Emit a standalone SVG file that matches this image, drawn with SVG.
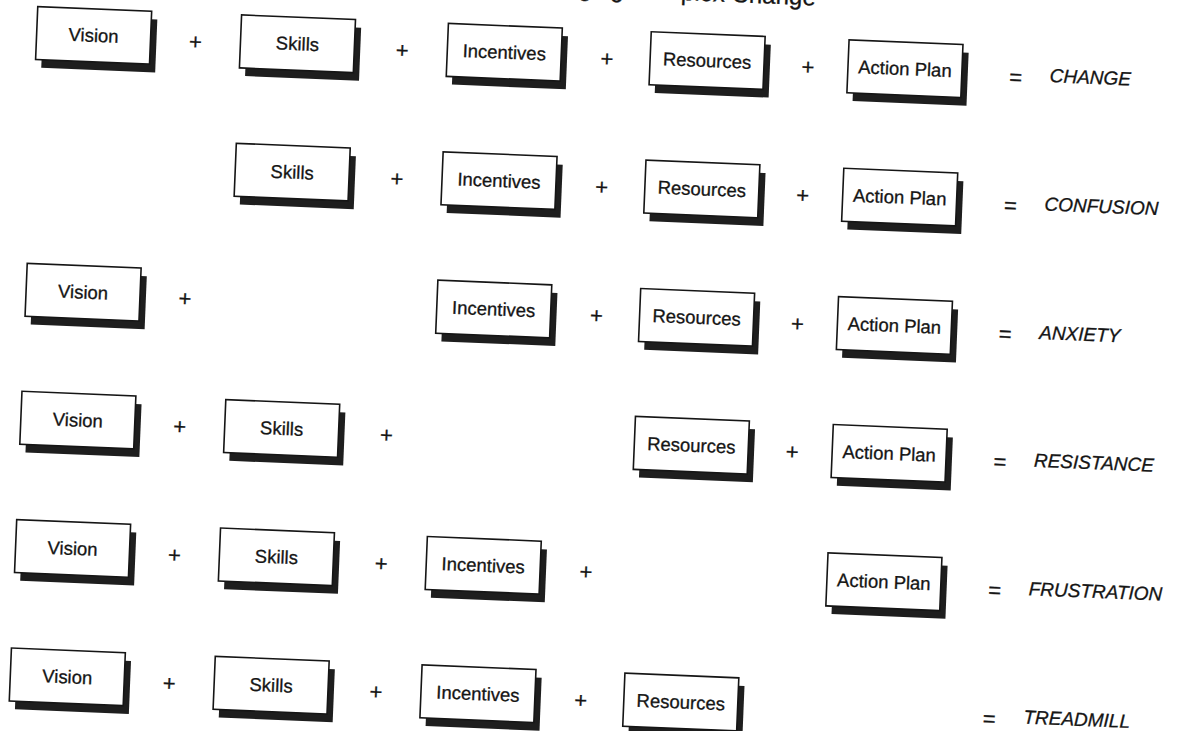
<svg xmlns="http://www.w3.org/2000/svg" xmlns:xlink="http://www.w3.org/1999/xlink" width="1186" height="731" viewBox="0 0 1186 731">
<style>
.box{fill:#fff;stroke:#151515;stroke-width:1.6}
.shadow{fill:#1e1e1e}
text{font-family:"Liberation Sans",Arial,Helvetica,sans-serif;fill:#151515;stroke:#151515;stroke-width:0.3}
.lbl{font-size:18.5px;text-anchor:middle}
.op{font-size:22px;text-anchor:middle}
.res{font-size:19px;font-style:italic}
.title{font-size:24px;text-anchor:end}
</style>
<defs>
<g id="card"><rect class="shadow" x="6" y="8" width="114" height="53"/><rect class="box" x="0" y="0" width="114" height="53"/></g>
</defs>
<rect width="1186" height="731" fill="#fff"/>
<g transform="rotate(2.35)">
<text class="title" x="815" y="-28">Managing Complex Change</text>

<g id="r1-vision" transform="translate(38,5)"><use xlink:href="#card"/><text class="lbl" x="57" y="33">Vision</text></g>
<g id="r1-skills" transform="translate(242,5)"><use xlink:href="#card"/><text class="lbl" x="57" y="33">Skills</text></g>
<g id="r1-incentives" transform="translate(449,5)"><use xlink:href="#card"/><text class="lbl" x="57" y="33">Incentives</text></g>
<g id="r1-resources" transform="translate(652,5)"><use xlink:href="#card"/><text class="lbl" x="57" y="33">Resources</text></g>
<g id="r1-actionplan" transform="translate(850,5)"><use xlink:href="#card"/><text class="lbl" x="57" y="33">Action Plan</text></g>

<g id="r2-skills" transform="translate(242,133.5)"><use xlink:href="#card"/><text class="lbl" x="57" y="33">Skills</text></g>
<g id="r2-incentives" transform="translate(449,133.5)"><use xlink:href="#card"/><text class="lbl" x="57" y="33">Incentives</text></g>
<g id="r2-resources" transform="translate(652,133.5)"><use xlink:href="#card"/><text class="lbl" x="57" y="33">Resources</text></g>
<g id="r2-actionplan" transform="translate(850,133.5)"><use xlink:href="#card"/><text class="lbl" x="57" y="33">Action Plan</text></g>

<g id="r3-vision" transform="translate(38,262)"><use xlink:href="#card"/><text class="lbl" x="57" y="33">Vision</text></g>
<g id="r3-incentives" transform="translate(449,262)"><use xlink:href="#card"/><text class="lbl" x="57" y="33">Incentives</text></g>
<g id="r3-resources" transform="translate(652,262)"><use xlink:href="#card"/><text class="lbl" x="57" y="33">Resources</text></g>
<g id="r3-actionplan" transform="translate(850,262)"><use xlink:href="#card"/><text class="lbl" x="57" y="33">Action Plan</text></g>

<g id="r4-vision" transform="translate(38,390)"><use xlink:href="#card"/><text class="lbl" x="57" y="33">Vision</text></g>
<g id="r4-skills" transform="translate(242,390)"><use xlink:href="#card"/><text class="lbl" x="57" y="33">Skills</text></g>
<g id="r4-resources" transform="translate(652,390)"><use xlink:href="#card"/><text class="lbl" x="57" y="33">Resources</text></g>
<g id="r4-actionplan" transform="translate(850,390)"><use xlink:href="#card"/><text class="lbl" x="57" y="33">Action Plan</text></g>

<g id="r5-vision" transform="translate(38,518.5)"><use xlink:href="#card"/><text class="lbl" x="57" y="33">Vision</text></g>
<g id="r5-skills" transform="translate(242,518.5)"><use xlink:href="#card"/><text class="lbl" x="57" y="33">Skills</text></g>
<g id="r5-incentives" transform="translate(449,518.5)"><use xlink:href="#card"/><text class="lbl" x="57" y="33">Incentives</text></g>
<g id="r5-actionplan" transform="translate(850,518.5)"><use xlink:href="#card"/><text class="lbl" x="57" y="33">Action Plan</text></g>

<g id="r6-vision" transform="translate(38,647)"><use xlink:href="#card"/><text class="lbl" x="57" y="33">Vision</text></g>
<g id="r6-skills" transform="translate(242,647)"><use xlink:href="#card"/><text class="lbl" x="57" y="33">Skills</text></g>
<g id="r6-incentives" transform="translate(449,647)"><use xlink:href="#card"/><text class="lbl" x="57" y="33">Incentives</text></g>
<g id="r6-resources" transform="translate(652,647)"><use xlink:href="#card"/><text class="lbl" x="57" y="33">Resources</text></g>

<g id="connectors">
<text class="op" x="197" y="41.3">+</text><text class="op" x="404" y="41.3">+</text><text class="op" x="609" y="41.3">+</text><text class="op" x="810" y="41.3">+</text><text class="op" x="1018" y="43">=</text>
<text class="op" x="404" y="169.8">+</text><text class="op" x="609" y="169.8">+</text><text class="op" x="810" y="169.8">+</text><text class="op" x="1018" y="171.5">=</text>
<text class="op" x="197" y="298.3">+</text><text class="op" x="609" y="298.3">+</text><text class="op" x="810" y="298.3">+</text><text class="op" x="1018" y="300">=</text>
<text class="op" x="197" y="426.3">+</text><text class="op" x="404" y="426.3">+</text><text class="op" x="810" y="426.3">+</text><text class="op" x="1018" y="428">=</text>
<text class="op" x="197" y="554.8">+</text><text class="op" x="404" y="554.8">+</text><text class="op" x="609" y="554.8">+</text><text class="op" x="1018" y="556.5">=</text>
<text class="op" x="197" y="683.3">+</text><text class="op" x="404" y="683.3">+</text><text class="op" x="609" y="683.3">+</text><text class="op" x="1018" y="685">=</text>
</g>

<g id="results">
<text class="res" x="1052" y="39">CHANGE</text>
<text class="res" x="1052" y="167.5">CONFUSION</text>
<text class="res" x="1052" y="296">ANXIETY</text>
<text class="res" x="1052" y="424">RESISTANCE</text>
<text class="res" x="1052" y="552.5">FRUSTRATION</text>
<text class="res" x="1052" y="681">TREADMILL</text>
</g>
</g>
</svg>
